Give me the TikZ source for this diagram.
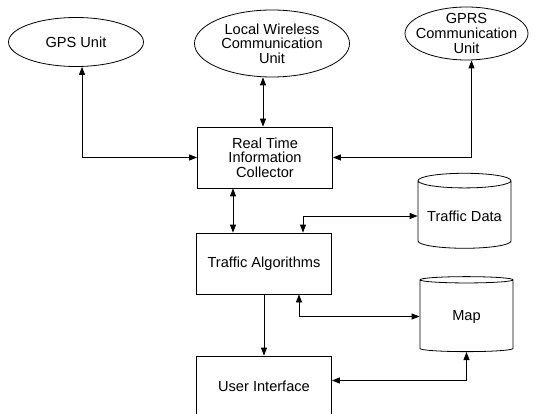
\documentclass[tikz,border=0pt]{standalone}
\usepackage{fontspec}
\setmainfont{Liberation Sans}
\usetikzlibrary{calc, shapes.geometric, arrows.meta, positioning}

\begin{document}
\begin{tikzpicture}[x=1pt, y=-1pt,
  every node/.style={font=\fontsize{14.6}{14.6}\selectfont},
  unite/.style={ellipse, draw, thick, inner sep=-8pt, align=center},
  bloc/.style={rectangle, draw, thick, minimum width=135pt, minimum height=61pt, align=center},
  base/.style={cylinder, shape border rotate=90, draw, thick, aspect=0.18,
               minimum width=93pt, minimum height=75pt},
  arr/.style={-{Triangle[length=8pt, width=6pt]}, thick},
  biarr/.style={{Triangle[length=8pt, width=6pt]}-{Triangle[length=8pt, width=6pt]}, thick}]
\useasboundingbox (0,0) rectangle (535,414);
% sources
\node[unite, minimum width=135pt, minimum height=49pt] (gps) at (76,42) {GPS Unit};
\node[unite, minimum width=155pt, minimum height=67pt] (loc) at (272,43.5) {Local Wireless\\Communication\\Unit};
\node[unite, minimum width=123pt, minimum height=53pt] (gprs) at (466.5,33.5) {GPRS\\Communication\\Unit};
% main column
\node[bloc] (col) at (265,157.5) {Real Time\\Information\\Collector};
\node[bloc] (alg) at (264,263.5) {Traffic Algorithms};
\node[bloc] (ui) at (264,386.5) {User Interface};
% stores
\node[base] (tdata) at (464.5,216) {Traffic Data};
\node[base] (map) at (466.5,316.5) {Map};
% links
\coordinate (lw) at ($(col.north)+(-2,0)$);
\draw[biarr] ($(gps.south)+(6,0)$) |- (col.west);
\draw[biarr] (loc.south -| lw) -- (lw);
\draw[biarr] ($(gprs.south)+(5,0)$) |- (col.east);
\draw[biarr] ($(col.south)+(-32,0)$) -- ($(alg.north)+(-31,0)$);
\draw[biarr] ($(alg.north)+(39,0)$) |- (tdata.west);
\draw[biarr] ($(alg.south)+(35,0)$) |- (map.west);
\draw[arr] (alg.south) -- (ui.north);
\draw[biarr] ($(ui.east)+(0,-6)$) -| (map.south);
\end{tikzpicture}
\end{document}
